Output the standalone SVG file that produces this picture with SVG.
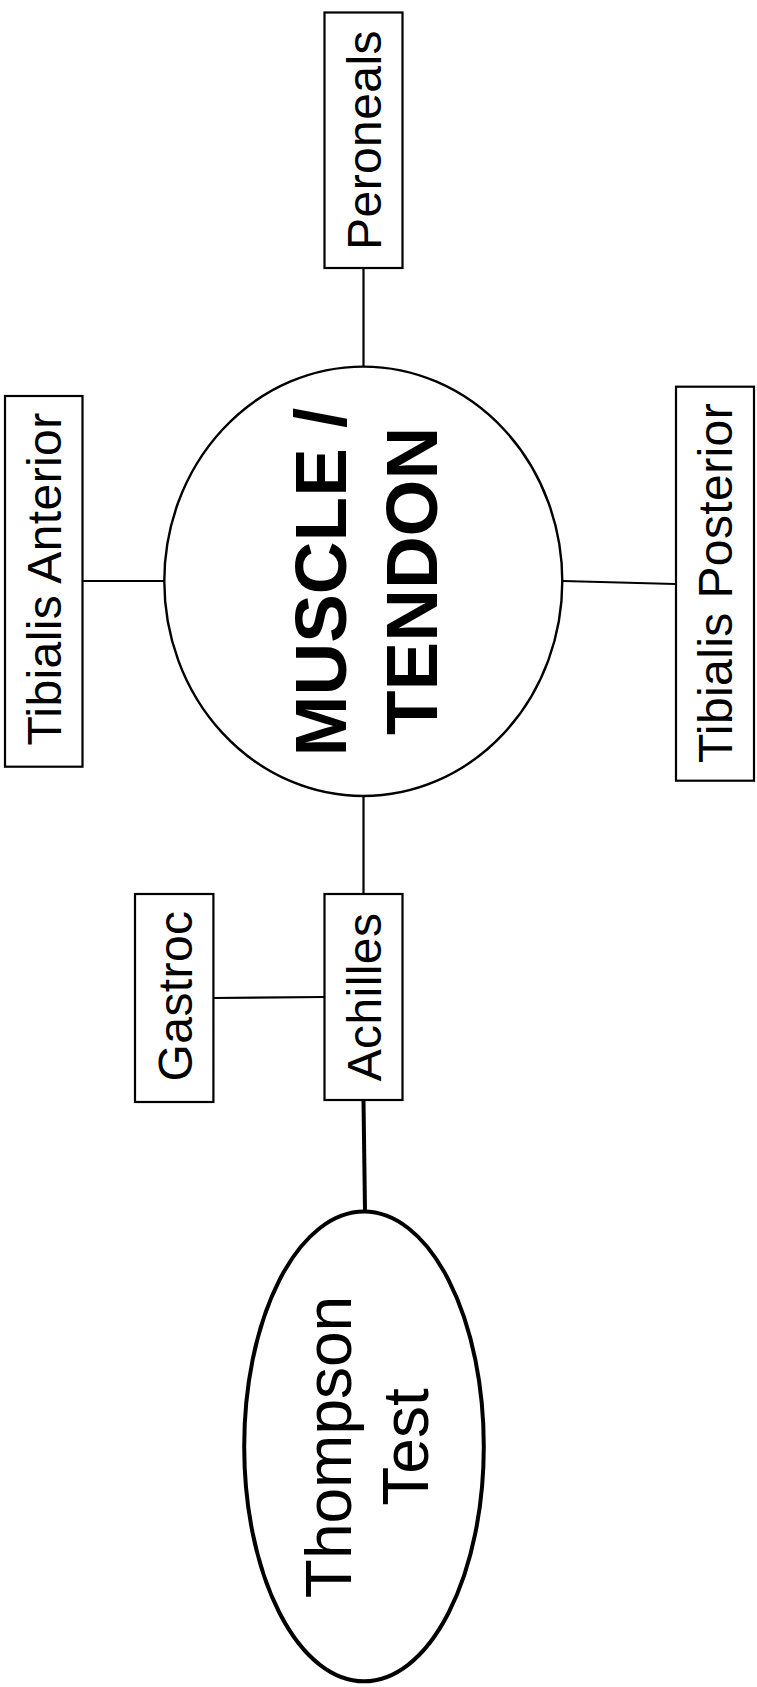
<svg xmlns="http://www.w3.org/2000/svg" width="757" height="1687" viewBox="0 0 757 1687">
<style>
.box{fill:#fff;stroke:#000;stroke-width:2.2}
.ell{fill:#fff;stroke:#000;stroke-width:2.4}
.ell2{fill:#fff;stroke:#000;stroke-width:4}
.ln{stroke:#000;stroke-width:2.2;fill:none}
.ln2{stroke:#000;stroke-width:4;fill:none}
.t{font-family:"Liberation Sans",Arial,sans-serif;font-size:48px;fill:#000;text-anchor:middle;letter-spacing:0.4px}
.tb{font-family:"Liberation Sans",Arial,sans-serif;font-size:73px;font-weight:bold;fill:#000;text-anchor:middle}
.tt{font-family:"Liberation Sans",Arial,sans-serif;font-size:64px;fill:#000;text-anchor:middle}
</style>
<rect width="757" height="1687" fill="#fff"/>
<g id="connectors">
<line class="ln" x1="363.5" y1="268" x2="363.5" y2="366"/>
<line class="ln" x1="83" y1="581" x2="164" y2="581"/>
<line class="ln" x1="563" y1="581" x2="675" y2="584"/>
<line class="ln" x1="363.5" y1="797" x2="363.5" y2="893"/>
<line class="ln" x1="214" y1="998" x2="324" y2="997"/>
<line class="ln2" x1="363.5" y1="1101" x2="365" y2="1211"/>
</g>
<g id="muscle-tendon">
<ellipse class="ell" cx="363.3" cy="581.3" rx="199" ry="214.7"/>
<text class="tb" transform="translate(346,582) rotate(-90)">MUSCLE /</text>
<text class="tb" transform="translate(437,581) rotate(-90)">TENDON</text>
</g>
<g id="peroneals">
<rect class="box" x="324.5" y="12.5" width="78" height="255.5"/>
<text class="t" transform="translate(381,140) rotate(-90)">Peroneals</text>
</g>
<g id="tibialis-anterior">
<rect class="box" x="5" y="396" width="77.5" height="370.7"/>
<text class="t" transform="translate(61,579) rotate(-90)">Tibialis Anterior</text>
</g>
<g id="tibialis-posterior">
<rect class="box" x="676" y="386.7" width="78" height="394"/>
<text class="t" transform="translate(732,583) rotate(-90)">Tibialis Posterior</text>
</g>
<g id="achilles">
<rect class="box" x="324.5" y="894" width="78" height="206"/>
<text class="t" transform="translate(381,997) rotate(-90)">Achilles</text>
</g>
<g id="gastroc">
<rect class="box" x="135" y="894" width="78.4" height="208"/>
<text class="t" transform="translate(191.5,996) rotate(-90)">Gastroc</text>
</g>
<g id="thompson-test">
<ellipse class="ell2" cx="364" cy="1446.4" rx="119.8" ry="234.9"/>
<text class="tt" transform="translate(351,1447) rotate(-90)">Thompson</text>
<text class="tt" transform="translate(428,1447) rotate(-90)">Test</text>
</g>
</svg>
